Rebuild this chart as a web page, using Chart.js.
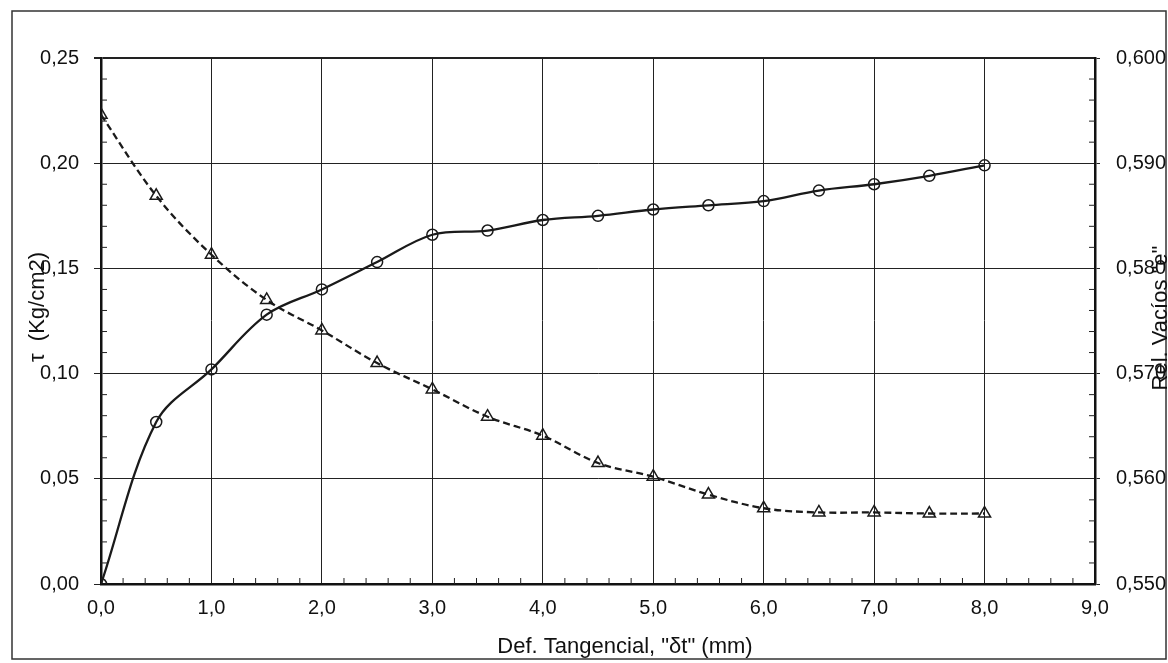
<!DOCTYPE html>
<html>
<head>
<meta charset="utf-8">
<script src="https://cdn.jsdelivr.net/npm/chart.js@4"></script>
<style>
    body { margin: 0; background: #fff; }
    #wrap { width: 1168px; height: 663px; position: relative; }
</style>
</head>
<body>
<div id="wrap"><canvas id="corte-chart"></canvas></div>
<script>
// deformación tangencial (mm)
const defTangencial = [0, 0.5, 1.0, 1.5, 2.0, 2.5, 3.0, 3.5, 4.0, 4.5, 5.0, 5.5, 6.0, 6.5, 7.0, 7.5, 8.0];
// esfuerzo cortante tau (Kg/cm2)
const tau = [0.000, 0.077, 0.102, 0.128, 0.140, 0.153, 0.166, 0.168, 0.173, 0.175, 0.178, 0.180, 0.182, 0.187, 0.190, 0.194, 0.199];
// relación de vacíos "e"
const relVacios = [0.5946, 0.5869, 0.5813, 0.5770, 0.5741, 0.5710, 0.5685, 0.5659, 0.5641, 0.5615, 0.5602, 0.5585, 0.5572, 0.5568, 0.5568, 0.5567, 0.5567];

const xTickLabels = ['0,0', '1,0', '2,0', '3,0', '4,0', '5,0', '6,0', '7,0', '8,0', '9,0'];
const tauTickLabels = ['0,00', '0,05', '0,10', '0,15', '0,20', '0,25'];
const eTickLabels = ['0,550', '0,560', '0,570', '0,580', '0,590', '0,600'];

const tituloX = 'Def. Tangencial, "\u03b4t" (mm)';
const tituloTau = '\u03c4  (Kg/cm2)';
const tituloE = 'Rel. Vac\u00edos "e"';

const FONT = 'Liberation Sans, Arial, sans-serif';

// marco exterior
const marcoPlugin = {
    id: 'marco',
    beforeDraw(chart) {
        const ctx = chart.ctx;
        ctx.save();
        ctx.fillStyle = '#fff';
        ctx.fillRect(0, 0, chart.width, chart.height);
        ctx.strokeStyle = '#333';
        ctx.lineWidth = 1.5;
        ctx.strokeRect(12, 11, 1154, 648);
        ctx.restore();
    }
};

// marcas menores hacia adentro
const minorPlugin = {
    id: 'minorTicks',
    afterDatasetsDraw(chart) {
        const ctx = chart.ctx;
        const s = chart.scales;
        ctx.save();
        ctx.strokeStyle = '#222';
        ctx.lineWidth = 1;
        ctx.beginPath();
        for (let i = 0; i <= 45; i++) {
            if (i % 5 === 0) continue;
            const px = s.x.getPixelForValue(i * 0.2);
            ctx.moveTo(px, s.x.top); ctx.lineTo(px, s.x.top - 6);
        }
        for (let i = 0; i <= 25; i++) {
            if (i % 5 === 0) continue;
            const py = s.y.getPixelForValue(i * 0.01);
            ctx.moveTo(s.y.right, py); ctx.lineTo(s.y.right + 6, py);
        }
        for (let i = 0; i <= 25; i++) {
            if (i % 5 === 0) continue;
            const py = s.y2.getPixelForValue(0.55 + i * 0.002);
            ctx.moveTo(s.y2.left, py); ctx.lineTo(s.y2.left - 6, py);
        }
        ctx.stroke();
        ctx.restore();
    }
};

// títulos de ejes
const titulosPlugin = {
    id: 'titulos',
    afterDraw(chart) {
        const ctx = chart.ctx;
        const a = chart.chartArea;
        const midY = (a.top + a.bottom) / 2;
        ctx.save();
        ctx.fillStyle = '#111';
        ctx.font = '22px ' + FONT;
        ctx.textAlign = 'center';
        ctx.textBaseline = 'middle';
        ctx.fillText(tituloX, 625, 647);

        ctx.save();
        ctx.translate(38, midY - 14);
        ctx.rotate(-Math.PI / 2);
        ctx.fillText(tituloTau, 0, 0);
        ctx.restore();

        ctx.save();
        ctx.translate(1161, midY - 3);
        ctx.rotate(-Math.PI / 2);
        ctx.fillText(tituloE, 0, 0);
        ctx.restore();
        ctx.restore();
    }
};

const ctx = document.getElementById('corte-chart').getContext('2d');
new Chart(ctx, {
    type: 'line',
    data: {
        datasets: [{
            label: 'tau',
            data: defTangencial.map((x, i) => ({ x: x, y: tau[i] })),
            yAxisID: 'y',
            borderColor: '#1a1a1a',
            borderWidth: 2.3,
            backgroundColor: 'transparent',
            pointStyle: 'circle',
            pointRadius: 5.5,
            pointBorderWidth: 1.5,
            pointBorderColor: '#1a1a1a',
            pointBackgroundColor: 'transparent',
            tension: 0.35
        }, {
            label: 'e',
            data: defTangencial.map((x, i) => ({ x: x, y: relVacios[i] })),
            yAxisID: 'y2',
            borderColor: '#1a1a1a',
            borderWidth: 2.3,
            borderDash: [7, 4],
            backgroundColor: 'transparent',
            pointStyle: 'triangle',
            pointRadius: 7,
            pointBorderWidth: 1.5,
            pointBorderColor: '#1a1a1a',
            pointBackgroundColor: 'transparent',
            tension: 0.35
        }]
    },
    options: {
        responsive: true,
        maintainAspectRatio: false,
        animation: false,
        layout: { padding: { top: 58, left: 0, right: 0, bottom: 0 } },
        plugins: {
            legend: { display: false },
            tooltip: { enabled: false }
        },
        scales: {
            x: {
                type: 'linear',
                min: 0, max: 9,
                ticks: {
                    stepSize: 1,
                    padding: 12,
                    color: '#111',
                    font: { family: FONT, size: 20 },
                    callback: (v, i) => xTickLabels[i]
                },
                grid: { color: '#222', lineWidth: 1, drawTicks: false },
                border: { display: true, color: '#111', width: 2.5 },
                afterFit: (scale) => { scale.height = 663 - 584; }
            },
            y: {
                position: 'left',
                min: 0, max: 0.25,
                ticks: {
                    stepSize: 0.05,
                    padding: 15,
                    color: '#111',
                    font: { family: FONT, size: 20 },
                    callback: (v, i) => tauTickLabels[i]
                },
                grid: {
                    color: '#222',
                    lineWidth: (c) => (c.tick && c.tick.value >= 0.249 ? 2 : 1),
                    tickLength: 7
                },
                border: { display: true, color: '#111', width: 2.5 },
                afterFit: (scale) => { scale.width = 101; }
            },
            y2: {
                position: 'right',
                min: 0.55, max: 0.60,
                ticks: {
                    stepSize: 0.01,
                    padding: 16,
                    color: '#111',
                    font: { family: FONT, size: 20 },
                    callback: (v, i) => eTickLabels[i]
                },
                grid: { drawOnChartArea: false, color: '#222', tickLength: 5 },
                border: { display: true, color: '#111', width: 2.5 },
                afterFit: (scale) => { scale.width = 1168 - 1095; }
            }
        }
    },
    plugins: [marcoPlugin, minorPlugin, titulosPlugin]
});
</script>
</body>
</html>
